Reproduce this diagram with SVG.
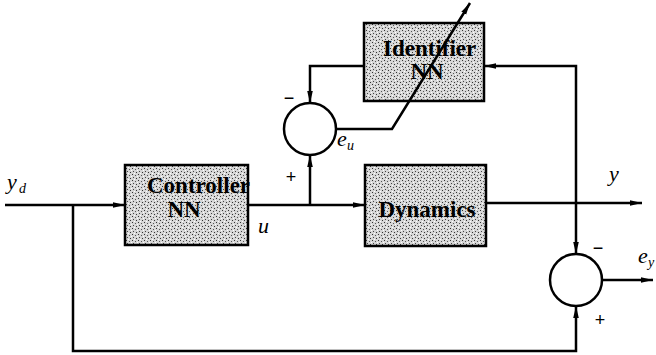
<svg xmlns="http://www.w3.org/2000/svg" width="656" height="355" viewBox="0 0 656 355">
<defs>
<pattern id="stip" width="6" height="6" patternUnits="userSpaceOnUse">
<rect width="6" height="6" fill="#d6d6d6"/>
<rect x="0" y="0" width="1" height="1" fill="#333"/>
<rect x="3" y="1" width="1" height="1" fill="#555"/>
<rect x="1" y="3" width="1" height="1" fill="#444"/>
<rect x="4" y="4" width="1" height="1" fill="#333"/>
<rect x="5" y="2" width="1" height="1" fill="#fff"/>
<rect x="2" y="5" width="1" height="1" fill="#fff"/>
</pattern>
<marker id="ah" viewBox="0 0 12 8" refX="12" refY="4" markerWidth="12" markerHeight="8" markerUnits="userSpaceOnUse" orient="auto">
<path d="M0,1.2 L12,4 L0,6.8 Z" fill="#000"/>
</marker>
</defs>
<style>
.blk{fill:url(#stip);stroke:#000;stroke-width:2.5}
.lbl{font-family:"Liberation Serif",serif;font-weight:bold;font-size:23px;fill:#000}
.it{font-family:"Liberation Serif",serif;font-style:italic;font-size:22px;fill:#000}
.sub{font-family:"Liberation Serif",serif;font-style:italic;font-size:14px;fill:#000}
.sg{font-family:"Liberation Sans",sans-serif;font-size:18px;fill:#000}
.ln{fill:none;stroke:#000;stroke-width:2.5}
.sum{fill:none;stroke:#000;stroke-width:2.5}
</style>
<rect width="656" height="355" fill="#fff"/>
<g id="identifier">
<rect class="blk" x="364" y="23" width="120" height="78"/>
<text class="lbl" x="383" y="56">Identifier</text>
<text class="lbl" x="427" y="79" text-anchor="middle">NN</text>
</g>
<g id="controller">
<rect class="blk" x="125" y="165" width="123" height="80"/>
<text class="lbl" x="147" y="193">Controller</text>
<text class="lbl" x="184" y="217" text-anchor="middle">NN</text>
</g>
<g id="dynamics">
<rect class="blk" x="365" y="165" width="121" height="81"/>
<text class="lbl" x="427" y="217" text-anchor="middle">Dynamics</text>
</g>
<g id="sum_eu">
<circle class="sum" cx="310" cy="129" r="26"/>
<text class="sg" x="289" y="104" text-anchor="middle">−</text>
<text class="sg" x="291" y="183" text-anchor="middle">+</text>
</g>
<g id="sum_ey">
<circle class="sum" cx="576" cy="280" r="26"/>
<text class="sg" x="598" y="254" text-anchor="middle">−</text>
<text class="sg" x="600" y="326" text-anchor="middle">+</text>
</g>
<g id="labels">
<text class="it" x="7" y="189">y</text><text class="sub" x="19" y="193">d</text>
<text class="it" x="258" y="233">u</text>
<text class="it" x="337" y="146">e</text><text class="sub" x="347" y="150">u</text>
<text class="it" x="609" y="181">y</text>
<text class="it" x="638" y="263">e</text><text class="sub" x="648" y="267">y</text>
</g>
<g id="connectors">
<path class="ln" d="M5,205 H125" marker-end="url(#ah)"/>
<path class="ln" d="M248,205 H365" marker-end="url(#ah)"/>
<path class="ln" d="M486,203 H642" marker-end="url(#ah)"/>
<path class="ln" d="M310,205 V155" marker-end="url(#ah)"/>
<path class="ln" d="M364,66 H310 V103" marker-end="url(#ah)"/>
<path class="ln" d="M576,203 V66 H484" marker-end="url(#ah)"/>
<path class="ln" d="M576,203 V254" marker-end="url(#ah)"/>
<path class="ln" d="M73,205 V351 H576 V306" marker-end="url(#ah)"/>
<path class="ln" d="M602,280 H653" marker-end="url(#ah)"/>
<path class="ln" d="M336,129 H392 L470,3" marker-end="url(#ah)"/>
</g>
</svg>
